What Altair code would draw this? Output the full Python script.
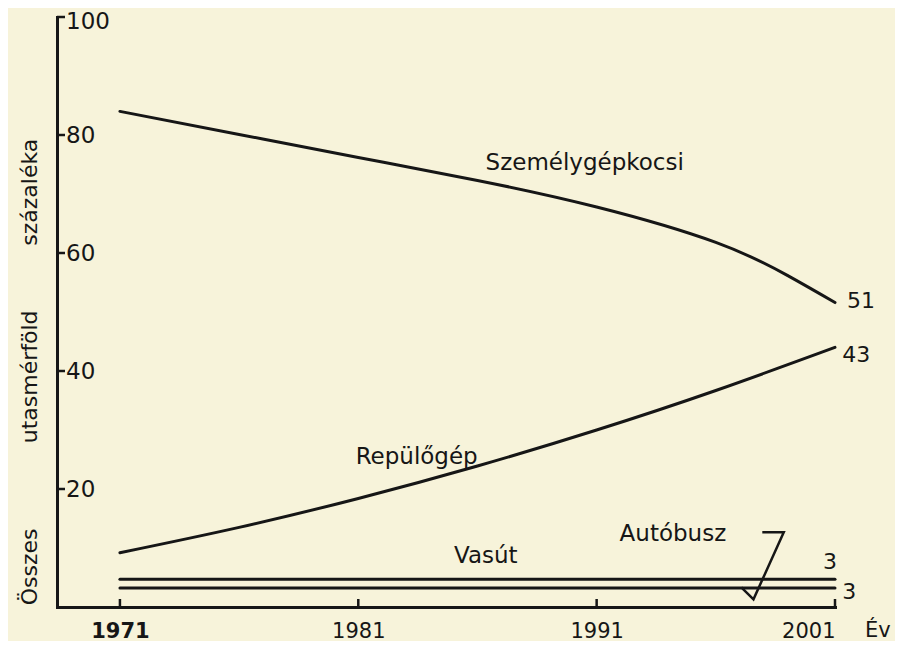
import altair as alt
import pandas as pd

# ---- data ----
car_years = [1971, 1976, 1981, 1986, 1991, 1996, 1999, 2001]
car_share = [84, 80.1, 76.2, 72.3, 67.8, 61.8, 56.2, 51.6]            # Személygépkocsi
plane_years = [1971, 1976, 1981, 1986, 1991, 1996, 2001]
plane_share = [9.2, 13.5, 18.4, 23.9, 30.0, 36.7, 44.0]               # Repülőgép
flat_years = [1971, 2001]
rail_share = [4.7, 4.7]   # Vasút
bus_share = [3.2, 3.2]    # Autóbusz

x_ticks = [1971, 1981, 1991, 2001]
y_ticks = [20, 40, 60, 80, 100]
y_tick_labels = ["20", "40", "60", "80", "100"]

series_names = ["Személygépkocsi", "Repülőgép", "Vasút", "Autóbusz"]
name_x = [1990.5, 1983.45, 1986.35, 1994.2]
name_y = [75.3, 25.4, 8.6, 12.4]

end_labels = ["51", "43", "3", "3"]
end_x = [2001.5, 2001.3, 2000.5, 2001.3]
end_y = [51.9, 42.7, 7.6, 2.5]

pointer_x = [1997.95, 1998.85, 1997.58, 1997.07]
pointer_y = [12.66, 12.66, 1.3, 3.34]

title_words = ["Összes", "utasmérföld", "százaléka"]
title_y = [6.8, 39.0, 70.3]

INK = "#161616"
BG = "#f7f3da"
FONT = "DejaVu Sans"

# ---- tables ----
lines_df = pd.concat([
    pd.DataFrame({"year": car_years, "value": car_share, "series": "Személygépkocsi"}),
    pd.DataFrame({"year": plane_years, "value": plane_share, "series": "Repülőgép"}),
    pd.DataFrame({"year": flat_years, "value": rail_share, "series": "Vasút"}),
    pd.DataFrame({"year": flat_years, "value": bus_share, "series": "Autóbusz"}),
], ignore_index=True)

names_df = pd.DataFrame({"year": name_x, "value": name_y, "label": series_names})
ends_df = pd.DataFrame({"year": end_x, "value": end_y, "label": end_labels})
pointer_df = pd.DataFrame({"year": pointer_x, "value": pointer_y, "order": list(range(len(pointer_x)))})
xt_df = pd.DataFrame({"year": x_ticks})
yt_df = pd.DataFrame({"value": y_ticks, "label": y_tick_labels})
title_df = pd.DataFrame({"value": title_y, "label": title_words})

W, H = 778, 590

x_scale = alt.Scale(domain=[1968.36, 2001], nice=False, zero=False)
y_scale = alt.Scale(domain=[0, 100], nice=False, zero=True)

x_axis = alt.Axis(
    values=x_ticks, format="d", ticks=False, grid=False, title=None,
    domainWidth=3, domainColor=INK, domainCap="square",
    labelFont=FONT, labelFontSize=21, labelColor=INK, labelPadding=13,
    labelFontWeight=alt.condition("datum.value == 1971", alt.value("bold"), alt.value("normal")),
)
y_axis = alt.Axis(
    ticks=False, labels=False, grid=False, title=None,
    domainWidth=3, domainColor=INK, domainCap="square",
)

def X(field="year"):
    return alt.X(f"{field}:Q", scale=x_scale, axis=x_axis)

def Y(field="value"):
    return alt.Y(f"{field}:Q", scale=y_scale, axis=y_axis)

lines = alt.Chart(lines_df).mark_line(
    color=INK, strokeWidth=3, interpolate="natural", strokeCap="round"
).encode(x=X(), y=Y(), detail="series:N")

pointer = alt.Chart(pointer_df).mark_line(
    color=INK, strokeWidth=2.5, strokeJoin="miter"
).encode(x=X(), y=Y(), order="order:Q")

names = alt.Chart(names_df).mark_text(
    font=FONT, fontSize=23, color=INK, align="center", baseline="middle"
).encode(x=X(), y=Y(), text="label:N")

ends = alt.Chart(ends_df).mark_text(
    font=FONT, fontSize=22, color=INK, align="left", baseline="middle"
).encode(x=X(), y=Y(), text="label:N")

x_tick_marks = alt.Chart(xt_df).mark_rule(color=INK, strokeWidth=2.5).encode(
    x=X(), y=alt.value(H), y2=alt.value(H - 8)
)

y_tick_marks = alt.Chart(yt_df).mark_rule(color=INK, strokeWidth=2.5).encode(
    y=Y(), x=alt.value(0), x2=alt.value(8)
)

y_tick_text = alt.Chart(yt_df).transform_filter("datum.value < 100").mark_text(
    font=FONT, fontSize=23, color=INK, align="left", baseline="middle", dx=9, dy=1
).encode(y=Y(), x=alt.value(0), text="label:N")

y_tick_top = alt.Chart(yt_df).transform_filter("datum.value == 100").mark_text(
    font=FONT, fontSize=23, color=INK, align="left", baseline="middle", dx=9, dy=5
).encode(y=Y(), x=alt.value(0), text="label:N")

y_title = alt.Chart(title_df).mark_text(
    font=FONT, fontSize=22, color=INK, align="center", baseline="middle", angle=270
).encode(y=Y(), x=alt.value(-27.5), text="label:N")

ev = alt.Chart(pd.DataFrame({"label": ["Év"]})).mark_text(
    font=FONT, fontSize=21, color=INK, align="left", baseline="middle"
).encode(x=alt.value(W + 30), y=alt.value(H + 24), text="label:N")

chart = alt.layer(
    lines, pointer, names, ends, x_tick_marks, y_tick_marks, y_tick_text, y_tick_top,
    y_title, ev
).properties(
    width=W, height=H,
    background=BG,
    padding={"left": 49, "top": 9, "right": 60, "bottom": 34},
    autosize=alt.AutoSizeParams(type="none"),
).configure_view(stroke=None)

chart.save("out.html", embed_options={"renderer": "svg", "actions": False})
